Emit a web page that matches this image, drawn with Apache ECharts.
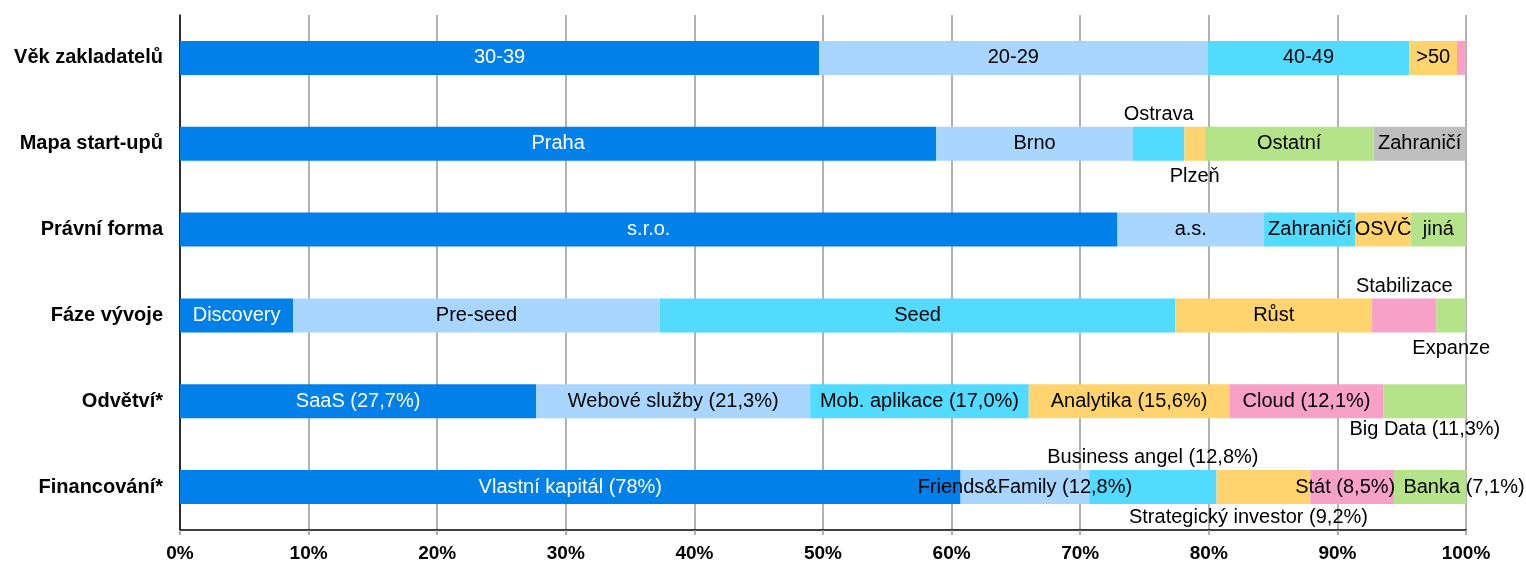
<!DOCTYPE html>
<html><head><meta charset="utf-8">
<script src="https://cdn.jsdelivr.net/npm/echarts@6/dist/echarts.min.js"></script>
<style>html,body{margin:0;padding:0;background:#fff}#c{width:1526px;height:563px}</style>
</head><body><div id="c"></div>
<script>
// ---- data ----
const categories = ['Věk zakladatelů', 'Mapa start-upů', 'Právní forma', 'Fáze vývoje', 'Odvětví*', 'Financování*'];
const xTicks = [0, 10, 20, 30, 40, 50, 60, 70, 80, 90, 100];

const vekValues = [49.7, 30.2, 15.7, 3.7, 0.7];
const vekLabels = ['30-39', '20-29', '40-49', '>50', ''];

const mapaValues = [58.8, 15.3, 4.0, 1.6, 13.1, 7.2];
const mapaLabels = ['Praha', 'Brno', 'Ostrava', 'Plzeň', 'Ostatní', 'Zahraničí'];

const pravniValues = [72.9, 11.4, 7.1, 4.3, 4.3];
const pravniLabels = ['s.r.o.', 'a.s.', 'Zahraničí', 'OSVČ', 'jiná'];

const fazeValues = [8.8, 28.5, 40.1, 15.3, 5.0, 2.3];
const fazeLabels = ['Discovery', 'Pre-seed', 'Seed', 'Růst', 'Stabilizace', 'Expanze'];

const odvetviValues = [27.7, 21.3, 17.0, 15.6, 12.0, 6.4];
const odvetviLabels = ['SaaS (27,7%)', 'Webové služby (21,3%)', 'Mob. aplikace (17,0%)', 'Analytika (15,6%)', 'Cloud (12,1%)', 'Big Data (11,3%)'];

const financValues = [60.7, 10.0, 9.9, 7.3, 6.5, 5.6];
const financLabels = ['Vlastní kapitál (78%)', 'Friends&Family (12,8%)', 'Business angel (12,8%)', 'Strategický investor (9,2%)', 'Stát (8,5%)', 'Banka (7,1%)'];

// ---- styles ----
const C = {blue:'#0080E8', lblue:'#A9D6FF', cyan:'#52DAFF', yellow:'#FFD46F', pink:'#F7A1C9', green:'#B4E38A', gray:'#BFBFBF'};
const rowColors = [
  [C.blue, C.lblue, C.cyan, C.yellow, C.pink],
  [C.blue, C.lblue, C.cyan, C.yellow, C.green, C.gray],
  [C.blue, C.lblue, C.cyan, C.yellow, C.green],
  [C.blue, C.lblue, C.cyan, C.yellow, C.pink, C.green],
  [C.blue, C.lblue, C.cyan, C.yellow, C.pink, C.green],
  [C.blue, C.lblue, C.cyan, C.yellow, C.pink, C.green]
];
// special label placement: "row-seg" -> {position, offset}
const placement = {
  '1-2': {position:'top', distance:2},
  '1-3': {position:'bottom', distance:6},
  '3-4': {position:'top', distance:2},
  '3-5': {position:'bottom', distance:6},
  '4-5': {position:'bottom', distance:1},
  '5-2': {position:'top', distance:3},
  '5-3': {position:'bottom', distance:3, offset:[-15,0]},
  '5-4': {position:'inside', offset:[-7,0]},
  '5-5': {position:'inside', offset:[34,0]}
};

const rows = [
  {values: vekValues, labels: vekLabels},
  {values: mapaValues, labels: mapaLabels},
  {values: pravniValues, labels: pravniLabels},
  {values: fazeValues, labels: fazeLabels},
  {values: odvetviValues, labels: odvetviLabels},
  {values: financValues, labels: financLabels}
];

const FONT = 'Liberation Sans, Arial, sans-serif';
const series = [];
for (let i = 0; i < 6; i++) {
  series.push({
    type: 'bar',
    stack: 'total',
    barWidth: 34,
    animation: false,
    data: rows.map((r, ri) => {
      if (r.values[i] == null) return '-';
      const p = placement[ri + '-' + i] || {position:'inside'};
      return {
        value: r.values[i],
        itemStyle: {color: rowColors[ri][i]},
        label: Object.assign({
          show: r.labels[i] !== '',
          formatter: r.labels[i],
          color: i === 0 ? '#ffffff' : '#000000',
          fontSize: 20,
          fontFamily: FONT
        }, p)
      };
    })
  });
}

const chart = echarts.init(document.getElementById('c'), null, {renderer: 'canvas'});
chart.setOption({
  animation: false,
  grid: {left: 180, right: 60, top: 15, bottom: 32, containLabel: false},
  xAxis: {
    type: 'value', min: 0, max: 100, interval: 10,
    axisLine: {show: true, lineStyle: {color: '#000', width: 1.5}},
    axisTick: {show: true, length: 5, lineStyle: {color: '#999', width: 1.5}},
    splitLine: {show: true, lineStyle: {color: '#999', width: 1.5}},
    axisLabel: {
      formatter: v => xTicks.includes(v) ? v + '%' : '',
      fontSize: 19, fontWeight: 'bold', color: '#000', margin: 14,
      fontFamily: FONT
    }
  },
  yAxis: {
    type: 'category', inverse: true, data: categories,
    axisLine: {show: true, lineStyle: {color: '#000', width: 1.5}},
    axisTick: {show: false},
    axisLabel: {
      fontSize: 20, fontWeight: 'bold', color: '#000', margin: 17,
      fontFamily: FONT
    }
  },
  series: series
});
</script>
</body></html>
